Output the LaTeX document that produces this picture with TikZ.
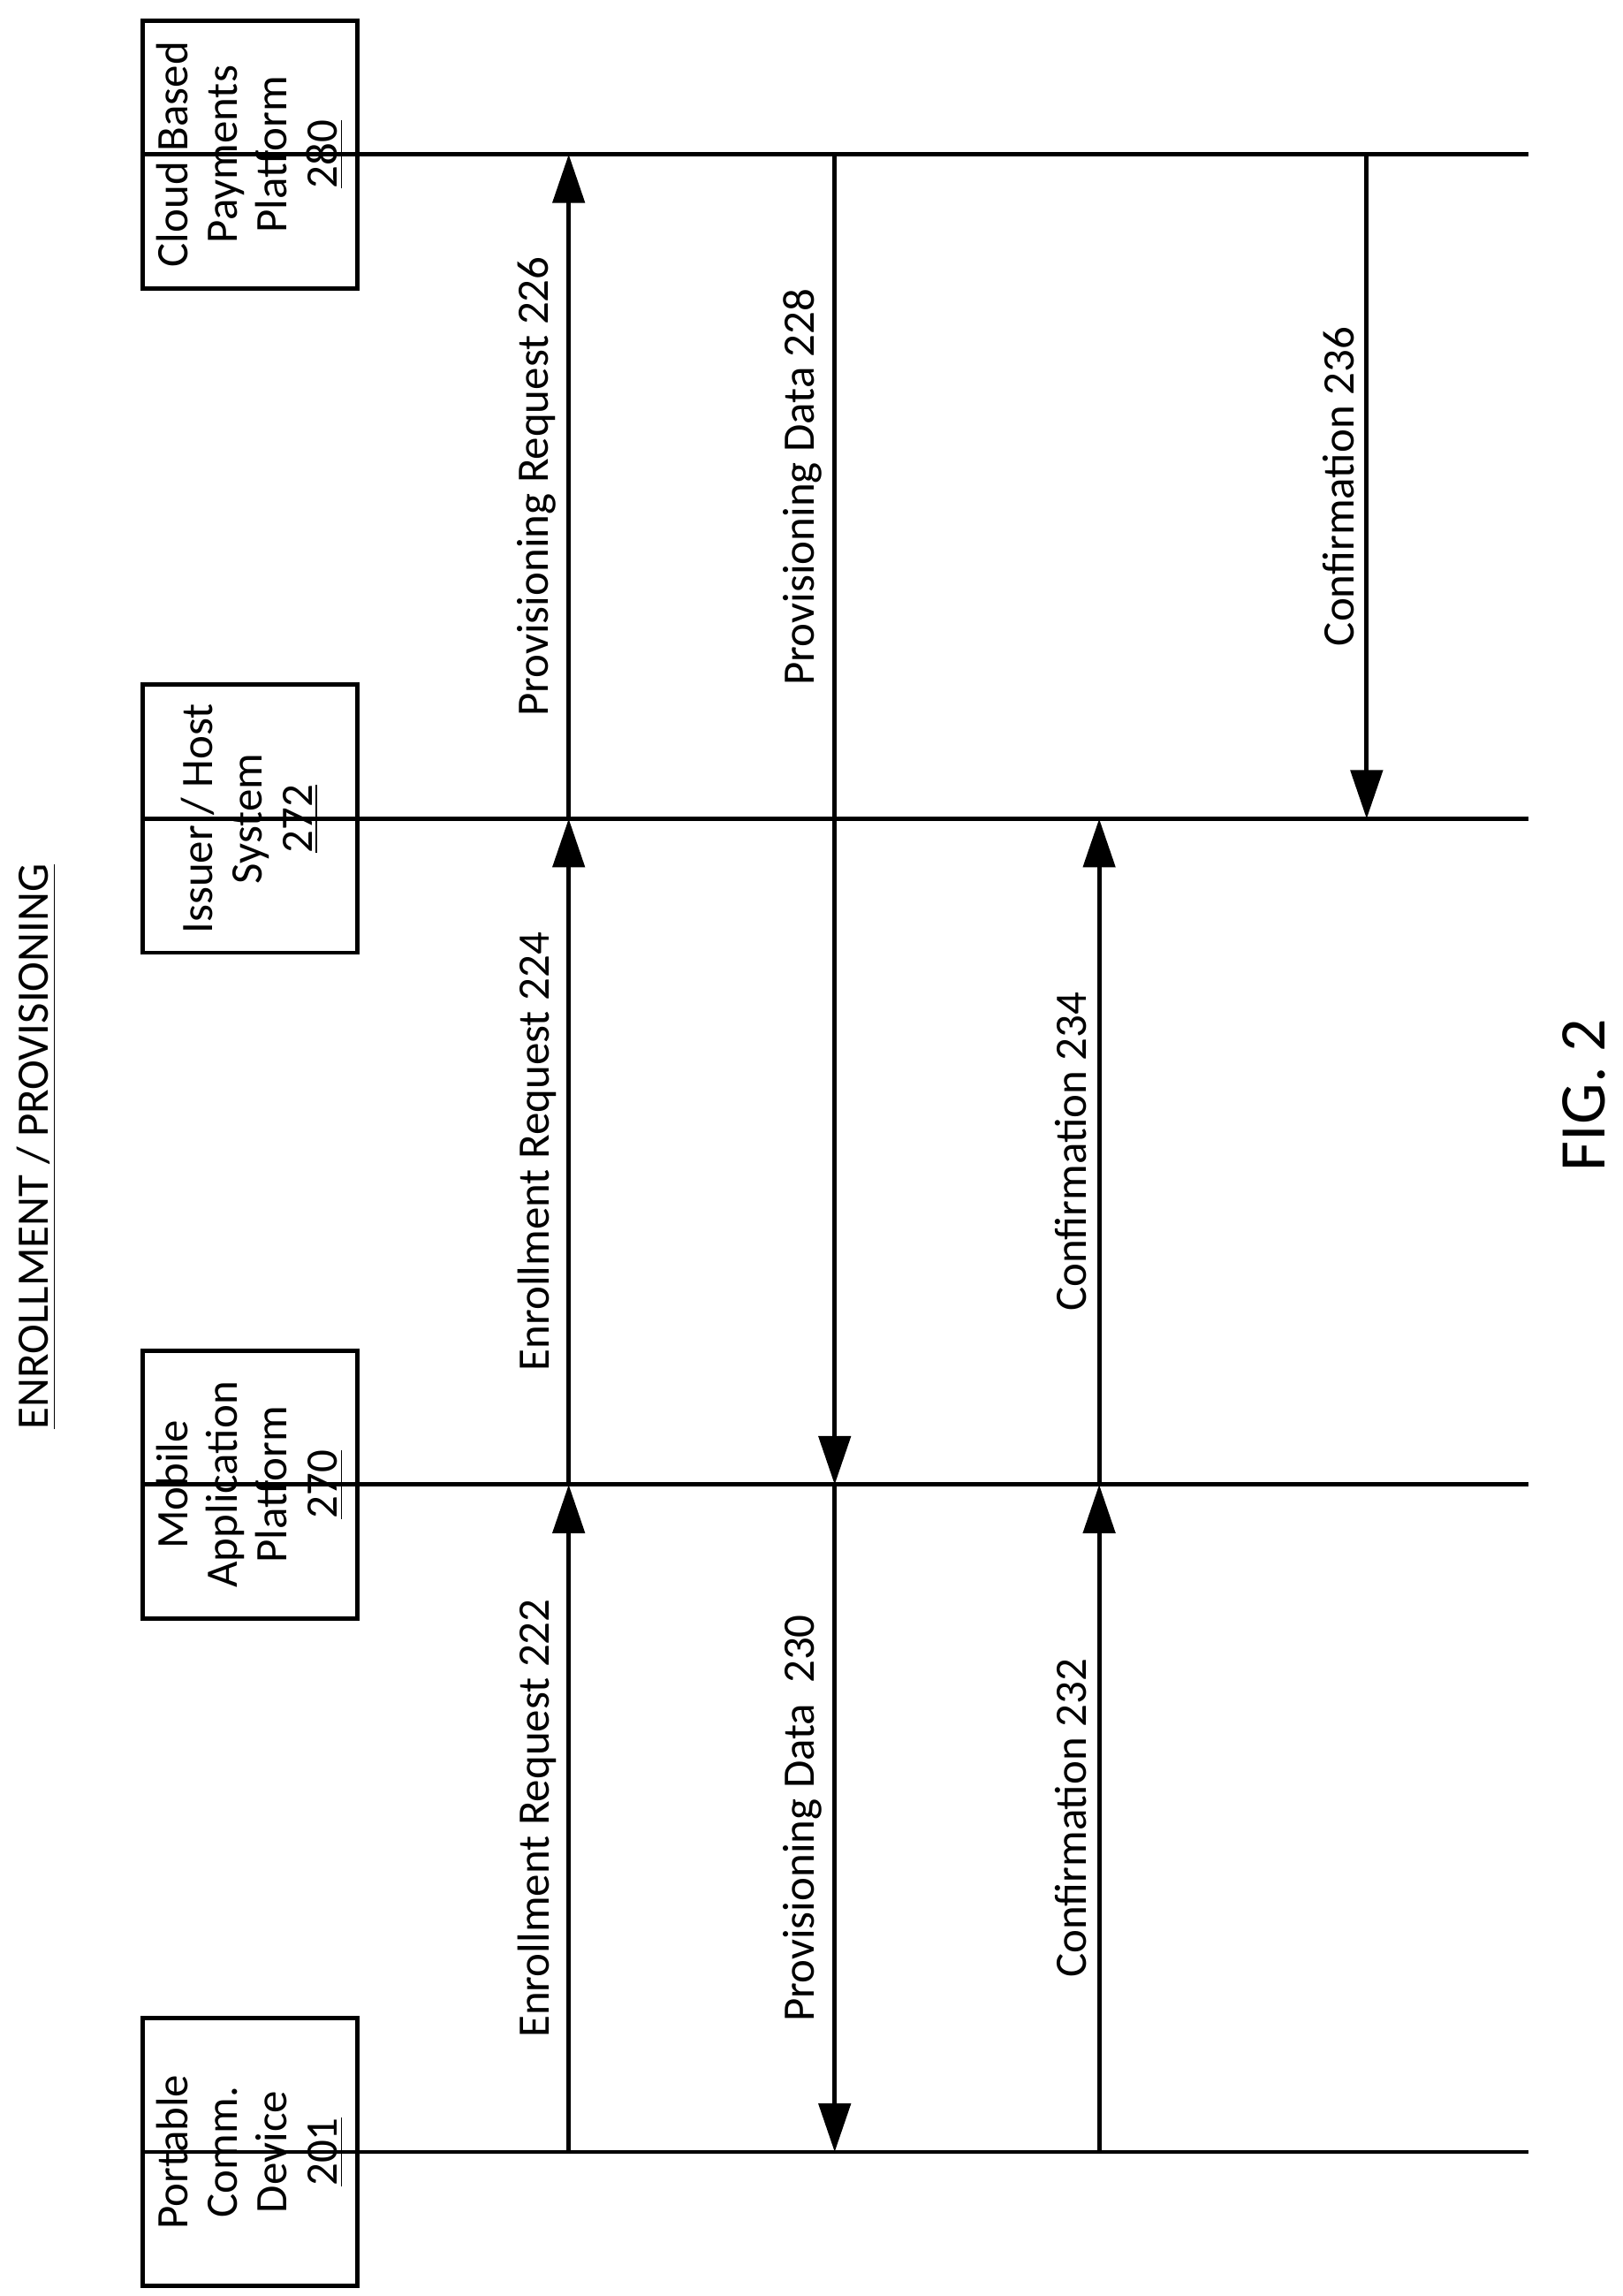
\documentclass[tikz,border=0pt]{standalone}
\usepackage{fontspec}
\setmainfont{Carlito}
\usetikzlibrary{arrows.meta}
\begin{document}
\begin{tikzpicture}[
    x=0.1663mm, y=-0.1663mm,
    party/.style={draw, line width=1.4pt, rotate=90, align=center, minimum width=30.3mm,
                  minimum height=24.3mm, font=\fontsize{14.5}{16}\selectfont},
    life/.style={line width=1.4pt},
    arr/.style={line width=1.4pt, -{Triangle[length=5.5mm, width=3.6mm]}},
    msg/.style={rotate=90, font=\fontsize{14.5}{16}\selectfont}
  ]
    \useasboundingbox (0,0) rectangle (1104,1562);
    \node[party] (dev)   at (170,1464) {Portable\\Comm.\\Device\\\underline{201}};
    \node[party] (map)   at (170,1010) {Mobile\\Application\\Platform\\\underline{270}};
    \node[party] (host)  at (170,557)  {Issuer / Host\\System\\\underline{272}};
    \node[party] (cloud) at (170,105)  {Cloud Based\\Payments\\Platform\\\underline{280}};

    \node[rotate=90, font=\fontsize{14.5}{16}\selectfont] (title) at (25,780) {\underline{ENROLLMENT / PROVISIONING}};
    \node[rotate=90, font=\fontsize{21}{24}\selectfont] (fig) at (1078,745) {FIG. 2};

    % lifelines
    \coordinate (dev-end)   at (1040,1464);
    \coordinate (map-end)   at (1040,1010);
    \coordinate (host-end)  at (1040,557);
    \coordinate (cloud-end) at (1040,105);
    \draw[life] (dev.north)   -- (dev-end);
    \draw[life] (map.north)   -- (map-end);
    \draw[life] (host.north)  -- (host-end);
    \draw[life] (cloud.north) -- (cloud-end);

    % message points
    \foreach \x/\n in {387/a, 568/b, 748/c, 930/d} {
      \coordinate (dev-\n)   at (\x,1464);
      \coordinate (map-\n)   at (\x,1010);
      \coordinate (host-\n)  at (\x,557);
      \coordinate (cloud-\n) at (\x,105);
    }

    \draw[arr] (dev-a)  -- (map-a)   node[midway, msg, above] {Enrollment Request 222};
    \draw[arr] (map-a)  -- (host-a)  node[midway, msg, above] {Enrollment Request 224};
    \draw[arr] (host-a) -- (cloud-a) node[midway, msg, above] {Provisioning Request 226};
    \draw[arr] (cloud-b) -- (map-b)  node[pos=0.25, msg, above] {Provisioning Data 228};
    \draw[arr] (map-b)  -- (dev-b)   node[midway, msg, above] {Provisioning Data\ \ 230};
    \draw[arr] (dev-c)  -- (map-c)   node[midway, msg, above] {Confirmation 232};
    \draw[arr] (map-c)  -- (host-c)  node[midway, msg, above] {Confirmation 234};
    \draw[arr] (cloud-d) -- (host-d) node[midway, msg, above] {Confirmation 236};
\end{tikzpicture}
\end{document}
